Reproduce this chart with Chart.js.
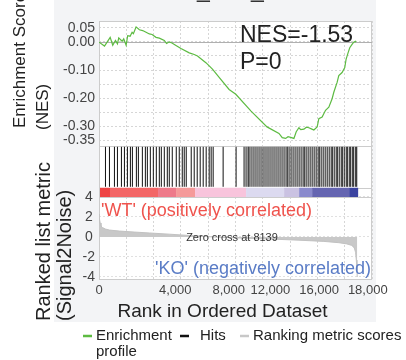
<!DOCTYPE html>
<html>
<head>
<meta charset="utf-8">
<script src="https://cdn.jsdelivr.net/npm/chart.js@4.4.1/dist/chart.umd.min.js"></script>
<style>
  body { margin: 0; background: #fff; }
  canvas { display: block; }
</style>
</head>
<body>
<canvas id="gsea" width="406" height="360"></canvas>
<script>
// data
var xMax = 19350;
var xTickLabels = ["0", "4,000", "8,000", "12,000", "16,000", "18,000"];
var xTickAt = [0, 5400, 9200, 12150, 15600, 19050];

// running enrichment score [rank, ES]
var esRank = [0, 389, 792, 975, 1166, 1307, 1399, 1640, 1753, 1922, 2035, 2205, 2346, 2438, 2629, 2862, 3095, 3336, 3569, 3760, 4042, 4276, 4629, 4791, 4982, 5173, 5456, 5809, 6396, 6749, 6982, 7576, 8042, 8516, 9222, 9696, 10777, 11908, 12756, 12989, 13229, 13400, 13583, 13816, 13979, 14170, 14300, 14523, 14700, 14876, 15050, 15230, 15463, 15583, 15816, 16056, 16290, 16523, 16643, 16876, 16996, 17229, 17420, 17512, 17653, 17773, 17936, 18056, 18176, 18219];
var esValue = [-0.001, -0.015, 0.016, -0.012, 0.005, -0.007, 0.014, 0.002, 0.011, -0.012, 0.022, 0.020, 0.034, 0.029, 0.053, 0.043, 0.040, 0.034, 0.028, 0.026, 0.016, 0.013, 0.005, -0.006, 0.000, -0.004, -0.013, -0.024, -0.039, -0.045, -0.050, -0.074, -0.097, -0.126, -0.169, -0.186, -0.246, -0.302, -0.325, -0.340, -0.343, -0.337, -0.339, -0.343, -0.319, -0.305, -0.312, -0.310, -0.303, -0.305, -0.309, -0.313, -0.302, -0.273, -0.267, -0.243, -0.232, -0.202, -0.179, -0.144, -0.120, -0.109, -0.091, -0.062, -0.039, -0.021, -0.009, -0.001, 0.002, -0.001];

// positions of the gene set members in the ranked list
var hits = [459, 742, 1095, 1307, 1590, 1802, 2014, 2226, 2367, 2650, 2791, 3074, 3286, 3427, 3639, 3851, 4063, 4276, 4417, 4629, 4841, 4982, 5194, 5477, 5689, 5901, 6042, 6184, 6537, 6749, 6961, 7173, 7385, 7597, 7809, 7950, 8092, 8798, 9717, 10283, 10424, 10566, 10636, 10777, 10919, 11060, 11201, 11343, 11484, 11626, 11767, 11908, 12049, 12191, 12332, 12473, 12615, 12756, 12897, 13039, 13180, 13321, 13392, 13534, 13675, 13816, 13958, 14099, 14240, 14382, 14523, 14594, 14735, 14876, 15018, 15159, 15300, 15442, 15583, 15654, 15795, 15936, 16078, 16219, 16360, 16502, 16572, 16714, 16855, 16925, 17067, 17208, 17279, 17420, 17561, 17632, 17773, 17844, 17985, 18056, 18197, 18268];

// colour bar under the hits
var barEdges = [71, 780, 4184, 5461, 6808, 10425, 13120, 14184, 15106, 17730, 18368];
var barColors = ["#ee4444", "#f36666", "#ee7a8a", "#f59a9a", "#f8c4dc", "#dcdaf0", "#cac2e2", "#8a8acd", "#6565b1", "#3b43a0"];

// ranked list metric (Signal2Noise)
var metricRank = [0, 35, 85, 141, 247, 459, 742, 1449, 2509, 3569, 4982, 6396, 8139, 9929, 12049, 14170, 15936, 16996, 17561, 17914, 18092, 18184, 18240, 18283, 18304];
var metricValue = [2.3, 1.8, 1.4, 1.1, 0.94, 0.79, 0.69, 0.59, 0.49, 0.40, 0.28, 0.15, 0, -0.10, -0.20, -0.32, -0.44, -0.57, -0.69, -0.84, -1.09, -1.53, -2.32, -3.31, -4.0];

var esTicks = [-0.35, -0.3, -0.25, -0.2, -0.15, -0.1, -0.05, 0, 0.05];
var esLabelled = [0.05, 0, -0.1, -0.2, -0.3, -0.35];
var metricTicks = [-4, -2, 0, 2, 4];

var FONT = "'Liberation Sans', Arial, sans-serif";

function pairs(xs, ys) {
  return xs.map(function (x, i) { return { x: x, y: ys[i] }; });
}

// fixed axis width, no label overflow padding
function fixWidth(s) {
  s.width = 45;
  s.paddingTop = 0;
  s.paddingBottom = 0;
}

// grey panel behind, white plot area
var panelBg = {
  id: 'panelBg',
  beforeDraw: function (chart) {
    var ctx = chart.ctx, a = chart.chartArea;
    ctx.save();
    ctx.fillStyle = '#fff';
    ctx.fillRect(0, 0, chart.width, chart.height);
    ctx.fillStyle = '#f3f4f6';
    ctx.fillRect(54, 0, 322, 322);
    ctx.fillStyle = '#fff';
    ctx.fillRect(a.left, a.top, a.right - a.left, a.bottom - a.top);
    ctx.restore();
  }
};

// frames round each stacked panel + solid zero line
var frames = {
  id: 'frames',
  beforeDatasetsDraw: function (chart) {
    var ctx = chart.ctx, a = chart.chartArea, s = chart.scales;
    ctx.save();
    ctx.strokeStyle = '#cccccc';
    ctx.lineWidth = 1;
    ['yES', 'yHit', 'yBar', 'yRank'].forEach(function (id) {
      var sc = s[id];
      ctx.strokeRect(a.left + 0.5, Math.round(sc.top) + 0.5, a.right - a.left - 1, Math.round(sc.bottom - sc.top));
    });
    var y0 = Math.round(s.yES.getPixelForValue(0)) + 0.5;
    ctx.strokeStyle = '#b0b0b0';
    ctx.beginPath();
    ctx.moveTo(a.left, y0);
    ctx.lineTo(a.right, y0);
    ctx.stroke();
    ctx.restore();
  }
};

// all the words
var labels = {
  id: 'labels',
  afterDraw: function (chart) {
    var ctx = chart.ctx, a = chart.chartArea;
    ctx.save();

    // bottom of the cut-off title
    ctx.fillStyle = '#333';
    ctx.font = '23px ' + FONT;
    ctx.textBaseline = 'alphabetic';
    ctx.fillText('_', 197, -3);
    ctx.fillText('_', 251, -3);

    // y titles (rotated, reading upwards)
    ctx.fillStyle = '#222';
    ctx.textAlign = 'left';
    [['Enrichment Score', 17, 25, 128], ['(NES)', 17, 48, 130], ['Ranked list metric', 20, 50, 321], ['(Signal2Noise)', 20, 70.5, 321]].forEach(function (t) {
      ctx.save();
      ctx.font = t[1] + 'px ' + FONT;
      ctx.translate(t[2], t[3]);
      ctx.rotate(-Math.PI / 2);
      ctx.fillText(t[0], 0, 0);
      ctx.restore();
    });

    // x title
    ctx.font = '19px ' + FONT;
    ctx.textAlign = 'center';
    ctx.textBaseline = 'middle';
    ctx.fillText('Rank in Ordered Dataset', 222.5, 312);

    // NES / P
    ctx.font = '23px ' + FONT;
    ctx.textAlign = 'left';
    ctx.textBaseline = 'alphabetic';
    ctx.fillText('NES=-1.53', 240, 42);
    ctx.fillText('P=0', 240, 68.5);

    // phenotype labels
    ctx.font = '18px ' + FONT;
    ctx.fillStyle = '#ef534d';
    ctx.fillText("'WT' (positively correlated)", a.left + 2, 216);
    ctx.fillStyle = '#5a7cc6';
    ctx.textAlign = 'right';
    ctx.fillText("'KO' (negatively correlated)", a.right - 1, 274);

    // zero cross
    ctx.font = '11px ' + FONT;
    ctx.fillStyle = '#333';
    ctx.textAlign = 'center';
    ctx.textBaseline = 'middle';
    ctx.fillText('Zero cross at 8139', 232, 238);

    // legend
    var ds = chart.data.datasets;
    ctx.font = '15px ' + FONT;
    ctx.textAlign = 'left';
    ctx.fillStyle = '#222';
    ctx.lineWidth = 2.5;
    [[ds[0].borderColor, 83, 'Enrichment'], ['#111', 180, 'Hits'], ['#c8c8c8', 240, 'Ranking metric scores']].forEach(function (l) {
      ctx.strokeStyle = l[0];
      ctx.beginPath();
      ctx.moveTo(l[1], 336);
      ctx.lineTo(l[1] + 9, 336);
      ctx.stroke();
      ctx.fillText(l[2], l[1] + (l[2] === 'Hits' ? 20 : 13), 336);
    });
    ctx.fillText('profile', 96, 352);

    ctx.restore();
  }
};

var tickFont = { family: FONT, size: 14 };

new Chart(document.getElementById('gsea'), {
  type: 'line',
  data: {
    datasets: [
      {
        label: 'Enrichment profile',
        data: pairs(esRank, esValue),
        yAxisID: 'yES',
        borderColor: '#5dbb42',
        borderWidth: 1.2,
        pointRadius: 0,
        tension: 0
      },
      {
        label: 'Hits',
        type: 'scatter',
        data: hits.map(function (r) { return { x: r, y: 0.5 }; }),
        yAxisID: 'yHit',
        showLine: false,
        pointStyle: 'line',
        pointRotation: 90,
        pointRadius: 20,
        pointHoverRadius: 20,
        pointBorderColor: '#111',
        pointBorderWidth: 1
      },
      {
        label: 'colour bar',
        data: barEdges.map(function (r) { return { x: r, y: 0.5 }; }),
        yAxisID: 'yBar',
        borderWidth: 9.5,
        borderCapStyle: 'butt',
        pointRadius: 0,
        segment: { borderColor: function (c) { return barColors[c.p0DataIndex]; } }
      },
      {
        label: 'Ranking metric scores',
        data: pairs(metricRank, metricValue),
        yAxisID: 'yRank',
        fill: 'origin',
        backgroundColor: '#c8c8c8',
        borderColor: '#c2c2c2',
        borderWidth: 1,
        pointRadius: 0,
        tension: 0
      }
    ]
  },
  options: {
    responsive: false,
    animation: false,
    events: [],
    layout: { padding: { left: 54, right: 34, top: 18, bottom: 59 } },
    plugins: { legend: { display: false }, tooltip: { enabled: false } },
    scales: {
      x: {
        type: 'linear', position: 'bottom', min: 0, max: xMax,
        grid: { display: false, drawTicks: false },
        border: { display: false },
        afterBuildTicks: function (s) { s.ticks = xTickAt.map(function (v) { return { value: v }; }); },
        afterFit: function (s) { s.height = 22; },
        ticks: {
          autoSkip: false, maxRotation: 0, padding: 4, color: '#444',
          font: { family: FONT, size: 13 },
          callback: function (v, i) { return xTickLabels[i]; }
        }
      },
      xg: {
        type: 'linear', position: 'bottom', min: 0, max: xMax,
        afterFit: function (s) { s.height = 0; },
        ticks: { display: false, stepSize: 2000 },
        grid: { color: '#d6d6d6', drawTicks: false },
        border: { display: false, dash: [2, 2] }
      },
      yRank: {
        type: 'linear', position: 'left', stack: 'gsea', stackWeight: 83,
        min: -4.2, max: 4,
        afterBuildTicks: function (s) { s.ticks = metricTicks.map(function (v) { return { value: v }; }); },
        afterFit: fixWidth,
        grid: { color: '#e0e0e0', drawTicks: false },
        border: { display: false, dash: [2, 2] },
        ticks: { autoSkip: false, crossAlign: 'center', padding: 4, color: '#444', font: tickFont }
      },
      yBar: {
        type: 'linear', position: 'left', stack: 'gsea', stackWeight: 9.5,
        min: 0, max: 1,
        afterFit: fixWidth,
        grid: { display: false },
        border: { display: false },
        ticks: { display: false }
      },
      yHit: {
        type: 'linear', position: 'left', stack: 'gsea', stackWeight: 42,
        min: 0, max: 1,
        afterFit: fixWidth,
        grid: { display: false },
        border: { display: false },
        ticks: { display: false }
      },
      yES: {
        type: 'linear', position: 'left', stack: 'gsea', stackWeight: 126.5,
        min: -0.37, max: 0.074,
        afterBuildTicks: function (s) { s.ticks = esTicks.map(function (v) { return { value: v }; }); },
        afterFit: fixWidth,
        grid: { color: '#d6d6d6', drawTicks: false },
        border: { display: false, dash: [2, 2] },
        ticks: {
          autoSkip: false, padding: 4, color: '#444', font: tickFont,
          callback: function (v) {
            var r = Math.round(v * 100) / 100;
            return esLabelled.indexOf(r) >= 0 ? r.toFixed(2) : '';
          }
        }
      }
    }
  },
  plugins: [panelBg, frames, labels]
});
</script>
</body>
</html>
